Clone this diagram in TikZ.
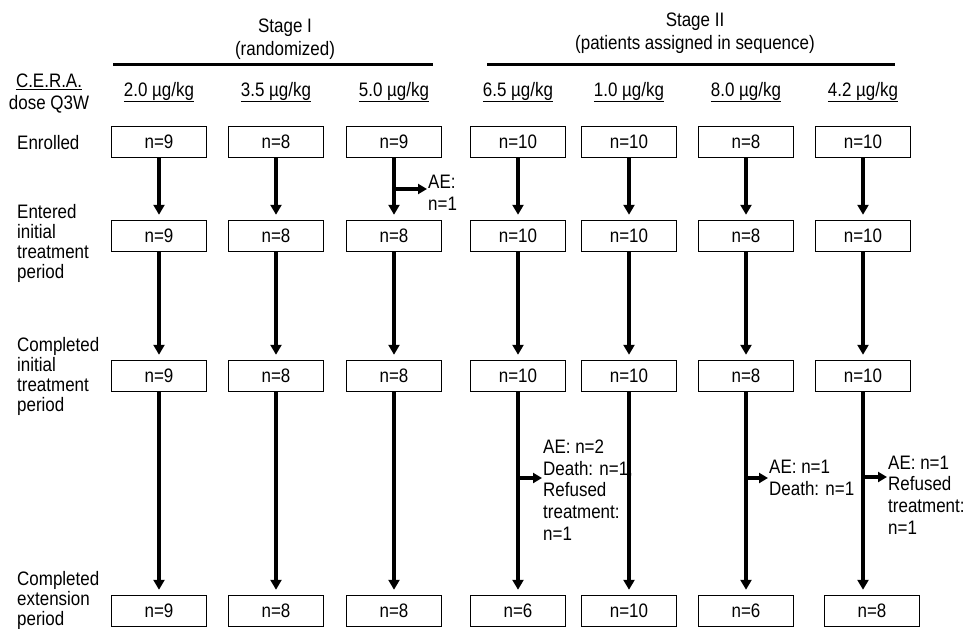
\documentclass[tikz,border=0pt]{standalone}
\usepackage{fontspec}
\setmainfont{Liberation Sans}[FakeStretch=0.87]
\usetikzlibrary{arrows.meta}

\begin{document}
\begin{tikzpicture}[x=1pt,y=-1pt]
\tikzset{
  every node/.style={font=\fontsize{19.5}{20}\selectfont},
  countbox/.style={draw,line width=1.5pt,minimum width=95pt,minimum height=31pt,inner sep=0pt},
  flow/.style={line width=3.2pt,-{Triangle[length=10pt,width=11pt]},shorten >=5pt},
  heavyflow/.style={flow,line width=4.8pt},
  dropout/.style={line width=3.2pt,-{Triangle[length=9pt,width=10pt]}},
  rowlabel/.style={anchor=west,align=left,inner sep=0pt},
  aenote/.style={anchor=west,align=left,inner sep=1pt,font=\fontsize{19.5}{21.7}\selectfont},
  stagehead/.style={align=center,font=\fontsize{19.5}{23}\selectfont},
  stagebar/.style={line width=3pt}
}
\useasboundingbox (0,0) rectangle (972,629);

% stage headings
\node[stagehead] (stage1) at (285,39) {Stage I\\(randomized)};
\node[stagehead] (stage2) at (695,33) {Stage II\\(patients assigned in sequence)};
\coordinate (bar1l) at (113,64);
\coordinate (bar1r) at (433,64);
\coordinate (bar2l) at (487,64);
\coordinate (bar2r) at (895,64);
\draw[stagebar] (bar1l) -- (bar1r);
\draw[stagebar] (bar2l) -- (bar2r);

% row labels
\node[align=center,inner sep=0pt,font=\fontsize{19.5}{22}\selectfont] (dosehead) at (49,94) {\underline{C.E.R.A.}\\dose Q3W};
\node[rowlabel] (lblen) at (17,143) {Enrolled};
\node[rowlabel] (lblei) at (17,243) {Entered\\initial\\treatment\\period};
\node[rowlabel] (lblci) at (17,376) {Completed\\initial\\treatment\\period};
\node[rowlabel] (lblce) at (17,600) {Completed\\extension\\period};

% one column per dose
\foreach \x/\xe/\dose/\a/\b/\c/\d/\arr [count=\i] in {159/159/2.0/9/9/9/9/flow, 276/276/3.5/8/8/8/8/flow,
    394/394/5.0/9/8/8/8/flow, 518/518/6.5/10/10/10/6/flow, 629/629/1.0/10/10/10/10/heavyflow,
    746/746/8.0/8/8/8/6/flow, 863/872/4.2/10/10/10/8/flow}{
  \node (dose\i) at (\x,92) {\underline{\dose~µg/kg}};
  \node[countbox] (en\i) at (\x,142) {n=\a};
  \node[countbox] (ei\i) at (\x,236) {n=\b};
  \node[countbox] (ci\i) at (\x,376) {n=\c};
  \node[countbox] (ce\i) at (\xe,611) {n=\d};
  \draw[\arr] (en\i) -- (ei\i);
  \draw[\arr] (ei\i) -- (ci\i);
  \draw[\arr] (ci\i) -- (ci\i |- ce\i.north);
}

% withdrawals
\coordinate (ae3) at (394,189);
\node[aenote] (note3) at (427,193) {AE:\\n=1};
\draw[dropout] (ae3) -- (ae3 -| note3.west);

\coordinate (ae4) at (518,478);
\node[aenote] (note4) at (542,490) {AE: n=2\\Death: n=1,\\Refused\\treatment:\\n=1};
\draw[dropout] (ae4) -- (ae4 -| note4.west);

\coordinate (ae6) at (746,478);
\node[aenote] (note6) at (768,478) {AE: n=1\\Death: n=1};
\draw[dropout] (ae6) -- (ae6 -| note6.west);

\coordinate (ae7) at (863,477);
\node[aenote] (note7) at (887,495) {AE: n=1\\Refused\\treatment:\\n=1};
\draw[dropout] (ae7) -- (ae7 -| note7.west);
\end{tikzpicture}
\end{document}
